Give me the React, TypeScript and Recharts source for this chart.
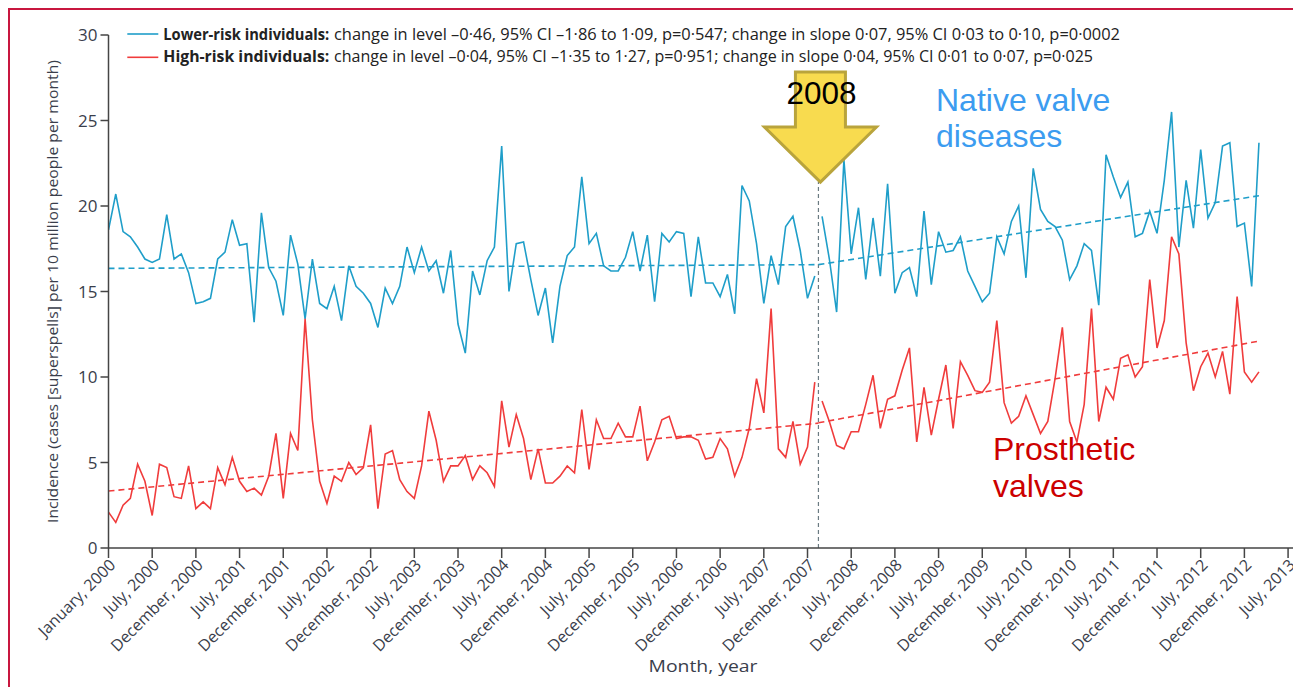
import React from "react";
import { LineChart, Line, XAxis, YAxis, ReferenceLine, ReferenceDot } from "recharts";

// monthly incidence, cases per 10 million people, Jan 2000 onwards
const lowerRiskPre = [
  18.6, 20.7, 18.5, 18.2, 17.6, 16.9, 16.7, 16.9, 19.5, 16.9, 17.2, 16.1, 14.3, 14.4, 14.6, 16.9,
  17.3, 19.2, 17.7, 17.8, 13.2, 19.6, 16.4, 15.6, 13.6, 18.3, 16.6, 13.4, 16.9, 14.3, 14.0, 15.3,
  13.3, 16.5, 15.3, 14.9, 14.3, 12.9, 15.2, 14.3, 15.3, 17.6, 16.1, 17.6, 16.2, 16.8, 14.9, 17.4,
  13.1, 11.4, 16.2, 14.8, 16.8, 17.6, 23.5, 15.0, 17.8, 17.9, 15.7, 13.6, 15.2, 12.0, 15.3, 17.1,
  17.6, 21.7, 17.8, 18.4, 16.5, 16.2, 16.2, 17.0, 18.5, 16.2, 18.3, 14.4, 18.4, 17.9, 18.5, 18.4,
  14.7, 18.2, 15.5, 15.5, 14.7, 16.0, 13.7, 21.2, 20.3, 17.8, 14.3, 17.1, 15.4, 18.8, 19.4, 17.4,
  14.6, 15.9,
];
const lowerRiskPost = [
  19.4, 16.9, 13.8, 22.7, 17.2, 19.9, 15.7, 19.3, 15.9, 21.3, 14.9, 16.1, 16.4, 14.7, 19.7, 15.4,
  18.5, 17.3, 17.4, 18.2, 16.2, 15.3, 14.4, 14.9, 18.2, 17.2, 19.1, 20.0, 15.8, 22.2, 19.8, 19.1,
  18.8, 18.0, 15.7, 16.5, 17.8, 17.4, 14.2, 23.0, 21.7, 20.5, 21.4, 18.2, 18.4, 19.7, 18.4, 21.5,
  25.5, 17.6, 21.5, 18.7, 23.3, 19.3, 20.2, 23.5, 23.7, 18.8, 19.0, 15.3, 23.7,
];
const highRiskPre = [
  2.1, 1.5, 2.5, 2.9, 4.9, 3.9, 1.9, 4.9, 4.7, 3.0, 2.9, 4.8, 2.3, 2.7, 2.3, 4.7,
  3.7, 5.3, 3.9, 3.3, 3.5, 3.1, 4.2, 6.7, 2.9, 6.7, 5.7, 13.4, 7.5, 3.9, 2.6, 4.2,
  3.9, 5.0, 4.3, 4.7, 7.2, 2.3, 5.5, 5.7, 4.0, 3.3, 2.9, 4.8, 8.0, 6.3, 3.9, 4.8,
  4.8, 5.4, 4.0, 4.8, 4.4, 3.6, 8.6, 5.9, 7.8, 6.4, 4.0, 5.8, 3.8, 3.8, 4.2, 4.8,
  4.4, 8.1, 4.6, 7.5, 6.4, 6.4, 7.3, 6.5, 6.5, 8.3, 5.1, 6.2, 7.5, 7.7, 6.4, 6.5,
  6.5, 6.3, 5.2, 5.3, 6.4, 5.8, 4.2, 5.3, 7.0, 9.9, 7.9, 14.0, 5.8, 5.3, 7.4, 4.9,
  5.9, 9.7,
];
const highRiskPost = [
  8.6, 7.4, 6.0, 5.8, 6.8, 6.8, 8.4, 10.1, 7.0, 8.7, 8.9, 10.4, 11.7, 6.2, 9.4, 6.6,
  8.7, 10.7, 7.0, 10.9, 10.1, 9.2, 9.1, 9.7, 13.3, 8.5, 7.3, 7.7, 8.9, 7.8, 6.7, 7.4,
  9.9, 12.9, 7.4, 6.2, 8.4, 14.0, 7.4, 9.4, 8.7, 11.1, 11.3, 10.0, 10.6, 15.7, 11.7, 13.3,
  18.2, 17.2, 12.0, 9.2, 10.6, 11.4, 10.0, 11.5, 9.0, 14.7, 10.3, 9.7, 10.3,
];

// segmented regression fits (start, end)
const lowerTrendPre = [16.35, 16.57];
const lowerTrendPost = [16.57, 20.6];
const highTrendPre = [3.33, 7.3];
const highTrendPost = [7.32, 12.1];

const breakMonth = 97.5;
const arrowTip = 21.4;

const monthTicks = [0, 6, 12, 18, 24, 30, 36, 42, 48, 54, 60, 66, 72, 78, 84, 90, 96, 102, 108, 114, 120, 126, 132, 138, 144, 150, 156, 162];
const monthLabels = [
  "January, 2000", "July, 2000", "December, 2000", "July, 2001", "December, 2001", "July, 2002",
  "December, 2002", "July, 2003", "December, 2003", "July, 2004", "December, 2004", "July, 2005",
  "December, 2005", "July, 2006", "December, 2006", "July, 2007", "December, 2007", "July, 2008",
  "December, 2008", "July, 2009", "December, 2009", "July, 2010", "December, 2010", "July, 2011",
  "December, 2011", "July, 2012", "December, 2012", "July, 2013",
];
const yTicks = [0, 5, 10, 15, 20, 25, 30];

const preRows = lowerRiskPre.map((v, i) => ({ m: i, lower: v, high: highRiskPre[i] }));
const postRows = lowerRiskPost.map((v, i) => ({ m: lowerRiskPre.length + i, lower: v, high: highRiskPost[i] }));
const lastMonth = postRows[postRows.length - 1].m;
const trendPreRows = [
  { m: 0, lower: lowerTrendPre[0], high: highTrendPre[0] },
  { m: breakMonth, lower: lowerTrendPre[1], high: highTrendPre[1] },
];
const trendPostRows = [
  { m: breakMonth, lower: lowerTrendPost[0], high: highTrendPost[0] },
  { m: lastMonth, lower: lowerTrendPost[1], high: highTrendPost[1] },
];

const BLUE = "#1f9ec9";
const RED = "#f03c3c";
const AXIS = "#454545";
const TEXT = "#3a3e4b";
const SMALL_FONT = "'Open Sans', 'DejaVu Sans', sans-serif";
const BIG_FONT = "'Liberation Sans', Arial, sans-serif";

const MonthTick = (props: any) => {
  const { x, y, payload } = props;
  const label = monthLabels[monthTicks.indexOf(payload.value)];
  const ax = x + 8;
  const ay = y + 6;
  return (
    <text x={ax} y={ay} transform={`rotate(-45 ${ax} ${ay})`} textAnchor="end"
      fontSize={16} fontFamily={SMALL_FONT} fill={TEXT}>
      {label}
    </text>
  );
};

const Arrow = (props: any) => {
  const { cx, cy } = props;
  const c = cx + 2;
  const pts = [
    [c, cy], [c - 56, cy - 55], [c - 25, cy - 55], [c - 25, cy - 110],
    [c + 25, cy - 110], [c + 25, cy - 55], [c + 56, cy - 55],
  ].map((p) => p.join(",")).join(" ");
  return (
    <g>
      <polygon points={pts} fill="#f8db4f" stroke="#b9a43c" strokeWidth={3} strokeLinejoin="miter" />
      <text x={c + 1} y={cy - 78} textAnchor="middle" fontSize={32} fontFamily={BIG_FONT} fill="#000"
        textLength={70} lengthAdjust="spacingAndGlyphs">2008</text>
    </g>
  );
};

const App = () => {
  return (
    <div style={{ position: "relative", width: 1293, height: 679 }}>
      <div style={{ position: "absolute", left: -8, top: -8, width: 469, height: 2, background: "#f5d84a" }} />
      <div style={{ position: "absolute", left: 1272, top: -8, width: 21, height: 2, background: "#f5d84a" }} />
      <div style={{ position: "absolute", left: 0, top: 0, width: 1293, height: 679, borderTop: "2px solid #c8173f", borderLeft: "2px solid #c8173f", boxSizing: "border-box" }} />
      <LineChart width={1293} height={679} margin={{ top: 27, right: 2, left: 0, bottom: 39 }}>
        <XAxis type="number" dataKey="m" domain={[0, 163.5]} ticks={monthTicks} interval={0}
          allowDataOverflow height={100} tickSize={10} tick={<MonthTick />}
          axisLine={{ stroke: AXIS, strokeWidth: 1.5 }} tickLine={{ stroke: AXIS, strokeWidth: 1.5 }} />
        <YAxis type="number" domain={[0, 30]} ticks={yTicks} width={100.5} tickSize={8} tickMargin={3}
          tick={{ fill: TEXT, fontSize: 17, fontFamily: SMALL_FONT }}
          axisLine={{ stroke: AXIS, strokeWidth: 1.5 }} tickLine={{ stroke: AXIS, strokeWidth: 1.5 }} />
        <ReferenceLine segment={[{ x: breakMonth, y: 0 }, { x: breakMonth, y: arrowTip }]}
          stroke="#6b7b82" strokeDasharray="4 3" strokeWidth={1.2} />
        <Line data={trendPreRows} dataKey="lower" stroke={BLUE} strokeWidth={1.6} strokeDasharray="6 4" dot={false} activeDot={false} isAnimationActive={false} />
        <Line data={trendPostRows} dataKey="lower" stroke={BLUE} strokeWidth={1.6} strokeDasharray="6 4" dot={false} activeDot={false} isAnimationActive={false} />
        <Line data={trendPreRows} dataKey="high" stroke={RED} strokeWidth={1.6} strokeDasharray="6 4" dot={false} activeDot={false} isAnimationActive={false} />
        <Line data={trendPostRows} dataKey="high" stroke={RED} strokeWidth={1.6} strokeDasharray="6 4" dot={false} activeDot={false} isAnimationActive={false} />
        <Line data={preRows} dataKey="lower" stroke={BLUE} strokeWidth={1.6} dot={false} activeDot={false} isAnimationActive={false} />
        <Line data={postRows} dataKey="lower" stroke={BLUE} strokeWidth={1.6} dot={false} activeDot={false} isAnimationActive={false} />
        <Line data={preRows} dataKey="high" stroke={RED} strokeWidth={1.6} dot={false} activeDot={false} isAnimationActive={false} />
        <Line data={postRows} dataKey="high" stroke={RED} strokeWidth={1.6} dot={false} activeDot={false} isAnimationActive={false} />
        <ReferenceDot x={breakMonth} y={arrowTip} shape={<Arrow />} ifOverflow="visible" />
      </LineChart>
      <svg width={1293} height={679} style={{ position: "absolute", left: 0, top: 0, pointerEvents: "none" }}>
        <line x1={119.3} x2={150.3} y1={26} y2={26} stroke={BLUE} strokeWidth={1.6} />
        <line x1={119.3} x2={150.3} y1={49.3} y2={49.3} stroke={RED} strokeWidth={1.6} />
        <g fontFamily={SMALL_FONT} fontSize={16} fill="#222">
          <text x={155.3} y={31.5} fontWeight="bold" textLength={166} lengthAdjust="spacingAndGlyphs">Lower-risk individuals:</text>
          <text x={326} y={31.5} textLength={786} lengthAdjust="spacingAndGlyphs">change in level –0·46, 95% CI –1·86 to 1·09, p=0·547; change in slope 0·07, 95% CI 0·03 to 0·10, p=0·0002</text>
          <text x={155.3} y={54} fontWeight="bold" textLength={166} lengthAdjust="spacingAndGlyphs">High-risk individuals:</text>
          <text x={326} y={54} textLength={759} lengthAdjust="spacingAndGlyphs">change in level –0·04, 95% CI –1·35 to 1·27, p=0·951; change in slope 0·04, 95% CI 0·01 to 0·07, p=0·025</text>
        </g>
        <text x={50} y={283.5} transform="rotate(-90 50 283.5)" textAnchor="middle" fontFamily={SMALL_FONT}
          fontSize={15} fill={TEXT} textLength={463} lengthAdjust="spacingAndGlyphs">
          Incidence (cases [superspells] per 10 million people per month)
        </text>
        <text x={695} y={664} textAnchor="middle" fontFamily={SMALL_FONT} fontSize={16} fill={TEXT}
          textLength={109} lengthAdjust="spacingAndGlyphs">Month, year</text>
        <g fontFamily={BIG_FONT} fontSize={32}>
          <text x={928} y={103} fill="#3c9cf0">Native valve</text>
          <text x={928} y={139} fill="#3c9cf0">diseases</text>
          <text x={985} y={452} fill="#cc0000">Prosthetic</text>
          <text x={985} y={489} fill="#cc0000">valves</text>
        </g>
      </svg>
    </div>
  );
};

export default App;
